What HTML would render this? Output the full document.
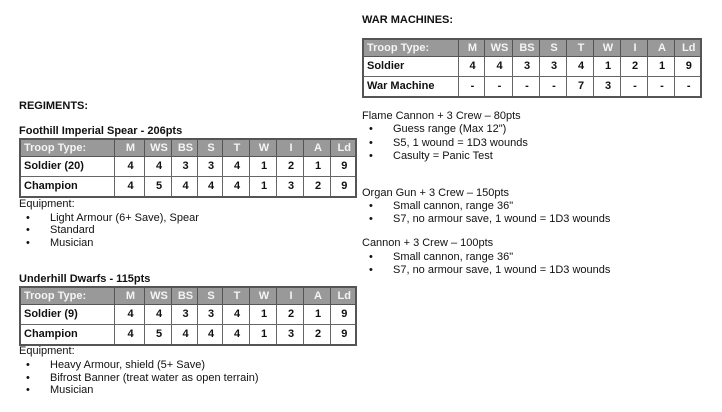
<!DOCTYPE html>
<html><head><meta charset="utf-8"><style>
body{margin:0;width:722px;height:412px;background:#fff;position:relative;font-family:"Liberation Sans",Arial,sans-serif;color:#111;overflow:hidden}
.t{position:absolute;font-size:11px;white-space:nowrap;line-height:13px}
.b{font-weight:bold}
table{position:absolute;border-collapse:collapse;table-layout:fixed;font-size:11px;font-weight:bold;border:2px solid #555}
td{border:1px solid #666;padding:0 0 0 3px;height:19px;text-align:center;line-height:13px}
td:first-child{text-align:left}
tr.h td{background:#999;color:#f4f4f4;height:16px;border-color:#555}
.bl{position:absolute;font-size:11px;line-height:13px}
</style></head><body>
<div class="t b" style="left:362px;top:14px">WAR MACHINES:</div>
<table style="left:362px;top:38px;width:338px">
<colgroup><col style="width:95px"><col style="width:26px"><col style="width:28px"><col style="width:27px"><col style="width:27px"><col style="width:27px"><col style="width:27px"><col style="width:27px"><col style="width:27px"><col style="width:27px"></colgroup>
<tr class="h"><td>Troop Type:</td><td>M</td><td>WS</td><td>BS</td><td>S</td><td>T</td><td>W</td><td>I</td><td>A</td><td>Ld</td></tr>
<tr><td>Soldier</td><td>4</td><td>4</td><td>3</td><td>3</td><td>4</td><td>1</td><td>2</td><td>1</td><td>9</td></tr>
<tr><td>War Machine</td><td>-</td><td>-</td><td>-</td><td>-</td><td>7</td><td>3</td><td>-</td><td>-</td><td>-</td></tr>
</table>

<div class="t" style="left:362px;top:110px">Flame Cannon + 3 Crew – 80pts</div>
<div class="t" style="left:369px;top:123px">•</div><div class="t" style="left:393px;top:123px">Guess range (Max 12")</div>
<div class="t" style="left:369px;top:137px">•</div><div class="t" style="left:393px;top:137px">S5, 1 wound = 1D3 wounds</div>
<div class="t" style="left:369px;top:150px">•</div><div class="t" style="left:393px;top:150px">Casulty = Panic Test</div>

<div class="t" style="left:362px;top:187px">Organ Gun + 3 Crew – 150pts</div>
<div class="t" style="left:369px;top:200px">•</div><div class="t" style="left:393px;top:200px">Small cannon, range 36"</div>
<div class="t" style="left:369px;top:213px">•</div><div class="t" style="left:393px;top:213px">S7, no armour save, 1 wound = 1D3 wounds</div>

<div class="t" style="left:362px;top:237px">Cannon + 3 Crew – 100pts</div>
<div class="t" style="left:369px;top:251px">•</div><div class="t" style="left:393px;top:251px">Small cannon, range 36"</div>
<div class="t" style="left:369px;top:264px">•</div><div class="t" style="left:393px;top:264px">S7, no armour save, 1 wound = 1D3 wounds</div>

<div class="t b" style="left:19px;top:100px">REGIMENTS:</div>
<div class="t b" style="left:19px;top:125px">Foothill Imperial Spear - 206pts</div>
<table style="left:19px;top:138px;width:336px">
<colgroup><col style="width:94px"><col style="width:30px"><col style="width:27px"><col style="width:26px"><col style="width:25px"><col style="width:27px"><col style="width:27px"><col style="width:27px"><col style="width:27px"><col style="width:26px"></colgroup>
<tr class="h"><td>Troop Type:</td><td>M</td><td>WS</td><td>BS</td><td>S</td><td>T</td><td>W</td><td>I</td><td>A</td><td>Ld</td></tr>
<tr><td>Soldier (20)</td><td>4</td><td>4</td><td>3</td><td>3</td><td>4</td><td>1</td><td>2</td><td>1</td><td>9</td></tr>
<tr><td>Champion</td><td>4</td><td>5</td><td>4</td><td>4</td><td>4</td><td>1</td><td>3</td><td>2</td><td>9</td></tr>
</table>
<div class="t" style="left:19px;top:198px">Equipment:</div>
<div class="t" style="left:26px;top:212px">•</div><div class="t" style="left:50px;top:212px">Light Armour (6+ Save), Spear</div>
<div class="t" style="left:26px;top:224px">•</div><div class="t" style="left:50px;top:224px">Standard</div>
<div class="t" style="left:26px;top:237px">•</div><div class="t" style="left:50px;top:237px">Musician</div>

<div class="t b" style="left:19px;top:273px">Underhill Dwarfs - 115pts</div>
<table style="left:19px;top:286px;width:336px">
<colgroup><col style="width:94px"><col style="width:30px"><col style="width:27px"><col style="width:26px"><col style="width:25px"><col style="width:27px"><col style="width:27px"><col style="width:27px"><col style="width:27px"><col style="width:26px"></colgroup>
<tr class="h"><td>Troop Type:</td><td>M</td><td>WS</td><td>BS</td><td>S</td><td>T</td><td>W</td><td>I</td><td>A</td><td>Ld</td></tr>
<tr><td>Soldier (9)</td><td>4</td><td>4</td><td>3</td><td>3</td><td>4</td><td>1</td><td>2</td><td>1</td><td>9</td></tr>
<tr><td>Champion</td><td>4</td><td>5</td><td>4</td><td>4</td><td>4</td><td>1</td><td>3</td><td>2</td><td>9</td></tr>
</table>
<div class="t" style="left:19px;top:345px">Equipment:</div>
<div class="t" style="left:26px;top:359px">•</div><div class="t" style="left:50px;top:359px">Heavy Armour, shield (5+ Save)</div>
<div class="t" style="left:26px;top:372px">•</div><div class="t" style="left:50px;top:372px">Bifrost Banner (treat water as open terrain)</div>
<div class="t" style="left:26px;top:384px">•</div><div class="t" style="left:50px;top:384px">Musician</div>
</body></html>
